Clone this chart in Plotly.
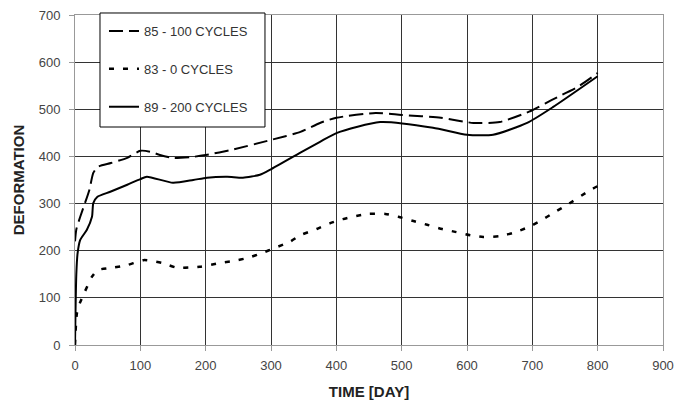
import plotly.graph_objects as go

# 85 - 100 CYCLES
days_85 = [0, 2, 8, 15, 22, 28, 35, 55, 80, 100, 115, 130, 150, 180, 200, 240, 300, 345, 375, 400, 460, 500, 560, 610, 650, 695, 730, 770, 800]
def_85 = [220, 245, 272, 300, 329, 365, 378, 386, 397, 412, 410, 403, 397, 399, 403, 414, 435, 452, 471, 482, 492, 488, 482, 471, 473, 495, 520, 548, 577]

# 83 - 0 CYCLES
days_83 = [0, 3, 8, 15, 26, 35, 58, 81, 105, 133, 156, 191, 222, 242, 265, 286, 306, 329, 345, 370, 390, 410, 447, 475, 495, 518, 539, 562, 582, 605, 625, 651, 671, 694, 712, 732, 753, 789, 800]
def_83 = [0, 68, 91, 113, 145, 159, 164, 170, 180, 174, 164, 166, 174, 178, 185, 195, 206, 219, 233, 246, 258, 267, 278, 278, 272, 263, 255, 246, 240, 233, 229, 231, 238, 250, 263, 280, 297, 329, 337]

# 89 - 200 CYCLES
days_89 = [0, 2, 4, 8, 18, 26, 28, 34, 54, 80, 100, 110, 150, 181, 202, 233, 257, 283, 299, 345, 375, 401, 467, 548, 600, 640, 692, 732, 800]
def_89 = [0, 150, 195, 223, 244, 272, 301, 314, 325, 340, 352, 357, 344, 350, 355, 357, 355, 361, 372, 408, 431, 450, 473, 461, 446, 446, 471, 505, 570]

x_ticks = [0, 100, 200, 300, 400, 500, 600, 700, 800, 900]
y_ticks = [0, 100, 200, 300, 400, 500, 600, 700]

FONT = "Liberation Sans, Arial, sans-serif"

fig = go.Figure()
fig.add_trace(go.Scatter(x=days_85, y=def_85, mode="lines", name="85 - 100 CYCLES",
                         legendgroup="a",
                         line=dict(color="black", width=2, dash="14px,6px", shape="spline", smoothing=0.6)))
fig.add_trace(go.Scatter(x=days_83, y=def_83, mode="lines", name="83 - 0 CYCLES",
                         legendgroup="b",
                         line=dict(color="black", width=2.5, dash="5px,9px", shape="spline", smoothing=0.6)))
fig.add_trace(go.Scatter(x=days_89, y=def_89, mode="lines", name="89 - 200 CYCLES",
                         legendgroup="c",
                         line=dict(color="black", width=2, shape="spline", smoothing=0.6)))

# legend frame (white box with black border, above the data)
fig.add_shape(type="rect", xref="paper", yref="paper",
              x0=0.0425, x1=0.3231, y0=0.6606, y1=1.0061,
              line=dict(color="black", width=1), fillcolor="white", layer="above")

fig.update_layout(
    width=694, height=401,
    margin=dict(l=75, r=31, t=15, b=56, autoexpand=False),
    paper_bgcolor="white", plot_bgcolor="white",
    font=dict(family=FONT, size=13, color="#333333"),
    showlegend=True,
    legend=dict(x=0.0493, y=0.997, xanchor="left", yanchor="top",
                borderwidth=0, bgcolor="rgba(0,0,0,0)",
                font=dict(family=FONT, size=13, color="#333333"),
                tracegroupgap=18, itemwidth=30, traceorder="grouped"),
    xaxis=dict(range=[0, 900], tickvals=x_ticks, ticktext=[str(v) for v in x_ticks],
               showgrid=True, gridcolor="#333333", gridwidth=1,
               showline=True, linecolor="#999999", linewidth=1, mirror=True,
               ticks="outside", ticklen=5, tickcolor="#999999",
               zeroline=False, automargin=False, ticklabelstandoff=3,
               tickfont=dict(family=FONT, size=13, color="#444444"),
               title=dict(text="<b>TIME [DAY]</b>", font=dict(family=FONT, size=15, color="#222222"), standoff=14)),
    yaxis=dict(range=[0, 700], tickvals=y_ticks, ticktext=[str(v) for v in y_ticks],
               showgrid=True, gridcolor="#333333", gridwidth=1,
               showline=True, linecolor="#999999", linewidth=1, mirror=True,
               ticks="outside", ticklen=5, tickcolor="#999999",
               zeroline=False, automargin=False, ticklabelstandoff=6,
               tickfont=dict(family=FONT, size=13, color="#444444"),
               title=dict(text="<b>DEFORMATION</b>", font=dict(family=FONT, size=15, color="#222222"), standoff=10)),
)

fig.write_html("out.html", config={"displayModeBar": False},
               post_script="document.body.style.margin='0';")
